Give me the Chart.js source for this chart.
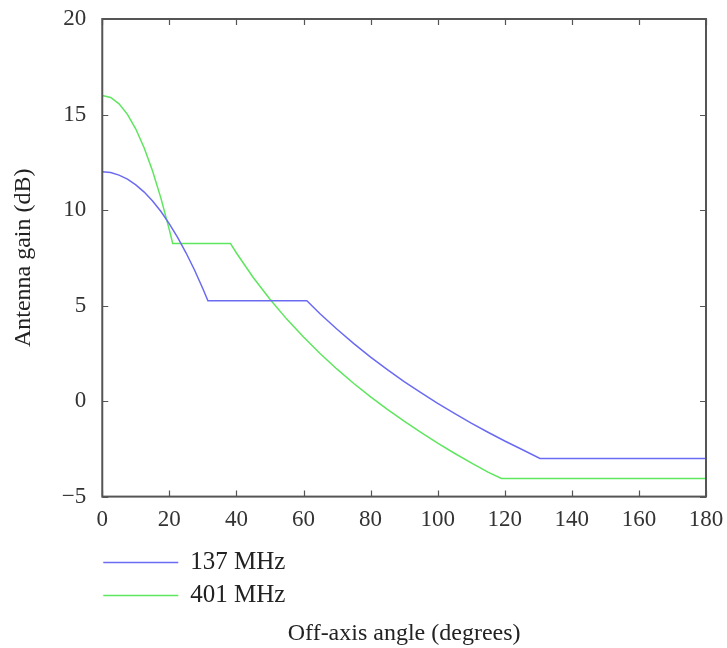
<!DOCTYPE html>
<html>
<head>
<meta charset="utf-8">
<script src="https://cdn.jsdelivr.net/npm/chart.js@4"></script>
<style>
  body { margin: 0; background: #fff; }
  #wrap { width: 727px; height: 648px; }
</style>
</head>
<body>
<div id="wrap"><canvas id="gainChart"></canvas></div>
<script>
// off-axis angle (degrees) and gain (dB)
const angles137 = [0, 2.5, 5, 7.5, 10, 12.5, 15, 17.5, 20, 22.5, 25, 27.5, 30, 31.5, 61, 65, 70, 75, 80, 85, 90, 95, 100, 105, 110, 115, 120, 125, 130.5, 180];
const gain137 = [12, 11.96, 11.83, 11.62, 11.32, 10.94, 10.47, 9.92, 9.28, 8.56, 7.75, 6.86, 5.88, 5.25, 5.25, 4.56, 3.76, 3.01, 2.30, 1.65, 1.02, 0.44, -0.12, -0.64, -1.15, -1.63, -2.09, -2.52, -3.0, -3.0];
const angles401 = [0, 2.5, 5, 7.5, 10, 12.5, 15, 17.5, 20, 21, 38.2, 40, 45, 50, 55, 60, 65, 70, 75, 80, 85, 90, 95, 100, 105, 110, 115, 119, 180];
const gain401 = [16, 15.89, 15.56, 15.01, 14.24, 13.25, 12.04, 10.61, 8.96, 8.25, 8.25, 7.75, 6.47, 5.33, 4.29, 3.35, 2.48, 1.67, 0.92, 0.22, -0.43, -1.05, -1.64, -2.20, -2.73, -3.23, -3.72, -4.05, -4.05];
const seriesLabels = ['137 MHz', '401 MHz'];
const xTicks = [0, 20, 40, 60, 80, 100, 120, 140, 160, 180];
const yTicks = [-5, 0, 5, 10, 15, 20];

const FONT = '"Liberation Serif", "Times New Roman", serif';

function toPoints(xs, ys) {
  return xs.map((x, i) => ({ x: x, y: ys[i] }));
}

// frame on all four sides with inward ticks, like the original plot
const framePlugin = {
  id: 'frame',
  afterDraw(chart) {
    const ctx = chart.ctx;
    const a = chart.chartArea;
    const xs = chart.scales.x, ys = chart.scales.y;
    ctx.save();
    ctx.strokeStyle = '#555';
    ctx.lineWidth = 2;
    ctx.strokeRect(a.left, a.top, a.right - a.left, a.bottom - a.top);
    ctx.lineWidth = 1.2;
    ctx.beginPath();
    xTicks.forEach(v => {
      const px = Math.round(xs.getPixelForValue(v)) + 0.5;
      ctx.moveTo(px, a.bottom); ctx.lineTo(px, a.bottom - 6);
      ctx.moveTo(px, a.top); ctx.lineTo(px, a.top + 6);
    });
    yTicks.forEach(v => {
      const py = Math.round(ys.getPixelForValue(v)) + 0.5;
      ctx.moveTo(a.left, py); ctx.lineTo(a.left + 6, py);
      ctx.moveTo(a.right, py); ctx.lineTo(a.right - 6, py);
    });
    ctx.stroke();

    // legend stacked under the tick labels
    ctx.font = '25px ' + FONT;
    ctx.textBaseline = 'middle';
    ctx.fillStyle = '#222';
    chart.data.datasets.forEach((ds, i) => {
      const y = a.bottom + 66 + i * 33;
      ctx.strokeStyle = ds.borderColor;
      ctx.lineWidth = 1.5;
      ctx.beginPath();
      ctx.moveTo(a.left + 1, y);
      ctx.lineTo(a.left + 76, y);
      ctx.stroke();
      ctx.fillText(ds.label, a.left + 88, y);
    });
    ctx.restore();
  }
};

const ctx = document.getElementById('gainChart').getContext('2d');
new Chart(ctx, {
  type: 'scatter',
  data: {
    datasets: [
      {
        label: seriesLabels[0],
        data: toPoints(angles137, gain137),
        showLine: true,
        borderColor: '#6b6bf2',
        borderWidth: 1.5,
        pointRadius: 0,
        tension: 0
      },
      {
        label: seriesLabels[1],
        data: toPoints(angles401, gain401),
        showLine: true,
        borderColor: '#5ee65e',
        borderWidth: 1.5,
        pointRadius: 0,
        tension: 0
      }
    ]
  },
  options: {
    responsive: true,
    maintainAspectRatio: false,
    animation: false,
    layout: { padding: { top: 19, right: 21, left: 9, bottom: 0 } },
    plugins: {
      legend: { display: false },
      tooltip: { enabled: false }
    },
    scales: {
      x: {
        type: 'linear',
        min: 0,
        max: 180,
        afterBuildTicks: s => { s.ticks = xTicks.map(v => ({ value: v })); },
        afterFit: s => { s.paddingLeft = 0; s.paddingRight = 0; },
        grid: { display: false, drawTicks: false },
        border: { display: false },
        ticks: { color: '#333', padding: 10, maxRotation: 0, font: { family: FONT, size: 23 } },
        title: {
          display: true,
          text: 'Off-axis angle (degrees)',
          color: '#222',
          font: { family: FONT, size: 24 },
          padding: { top: 75, bottom: 0 }
        }
      },
      y: {
        type: 'linear',
        min: -5,
        max: 20,
        afterBuildTicks: s => { s.ticks = yTicks.map(v => ({ value: v })); },
        afterFit: s => { s.paddingTop = 0; s.paddingBottom = 0; },
        grid: { display: false, drawTicks: false },
        border: { display: false },
        ticks: {
          color: '#333',
          padding: 16,
          font: { family: FONT, size: 23 },
          callback: v => String(v).replace('-', '\u2212')
        },
        title: {
          display: true,
          text: 'Antenna gain (dB)',
          color: '#222',
          font: { family: FONT, size: 24 },
          padding: { top: 0, bottom: 8 }
        }
      }
    }
  },
  plugins: [framePlugin]
});
</script>
</body>
</html>
